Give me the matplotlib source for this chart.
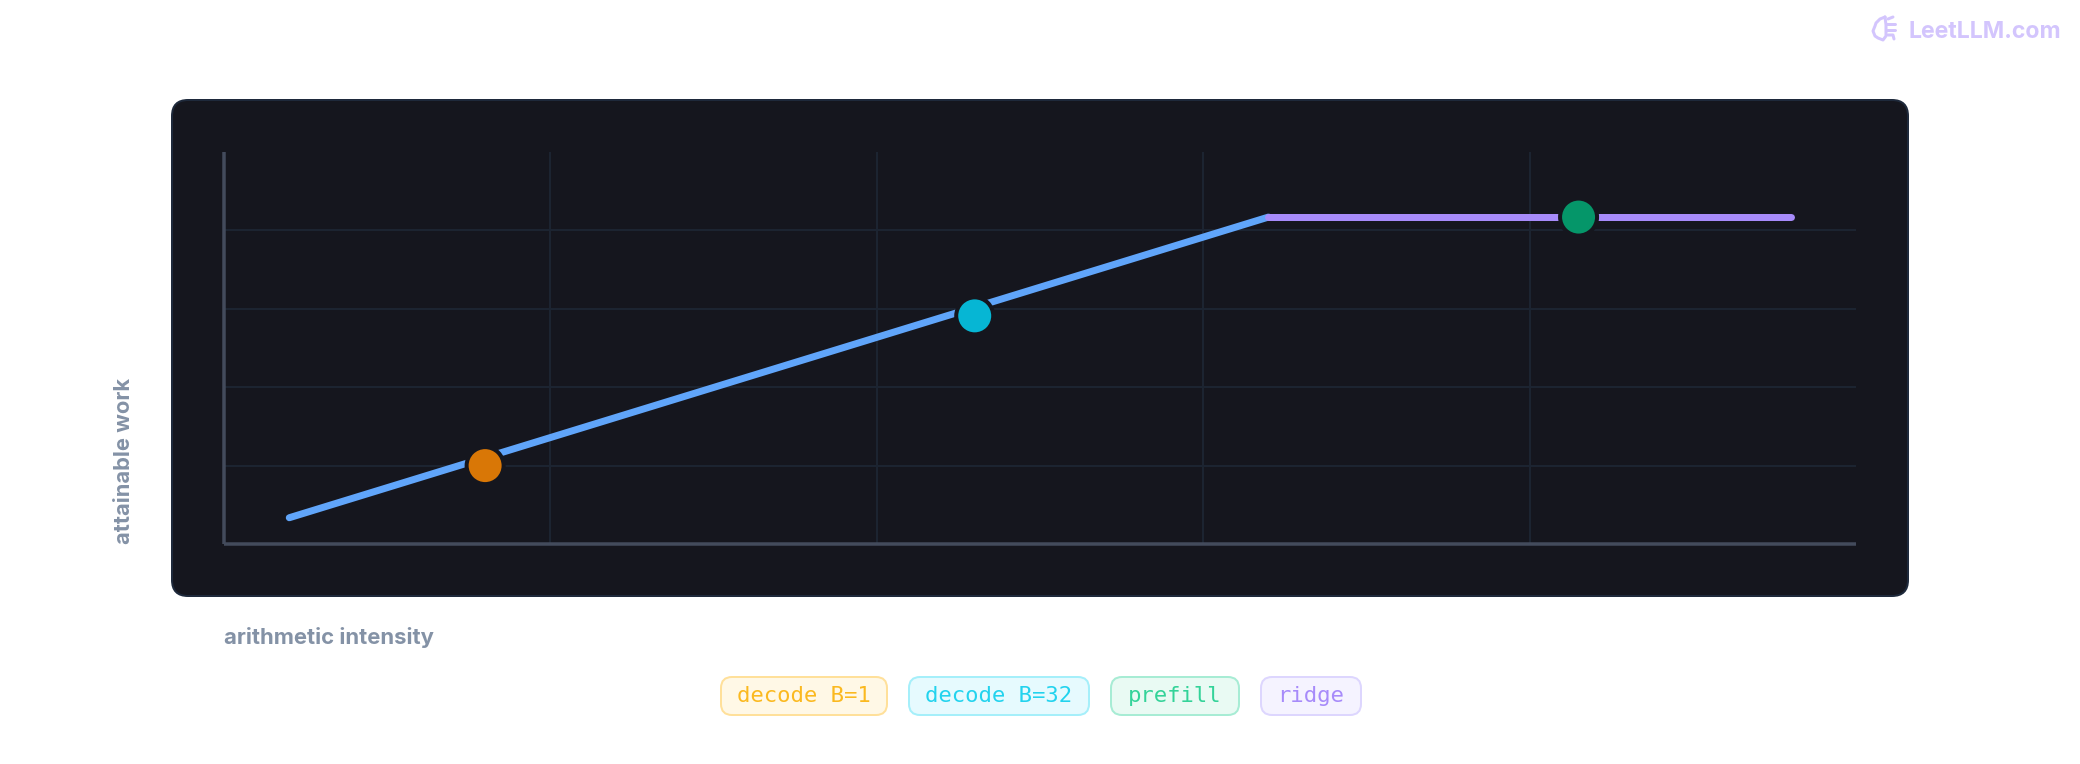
import matplotlib
matplotlib.use("Agg")
import matplotlib.pyplot as plt
from matplotlib.patches import FancyBboxPatch

plt.rcParams['font.family'] = ['Inter', 'DejaVu Sans']

W, H = 2080, 764
PX = 72 / 100  # one pixel in points at dpi 100
PANEL = "#15161e"

# data
decode_x = [0.2, 3.2]
decode_y = [0.335, 4.17]
ridge_x = [3.2, 4.8]
ridge_y = [4.17, 4.17]
point_x = [0.8, 2.3, 4.15]
point_y = [1.0, 2.91, 4.17]
point_colors = ["#d97706", "#06b6d4", "#059669"]
grid_ticks = [1, 2, 3, 4]

chip_labels = ["decode B=1", "decode B=32", "prefill", "ridge"]
chip_fill = ["#fff8e6", "#e6fafe", "#e9faf3", "#f5f3ff"]
chip_edge = ["#ffe09a", "#a5effa", "#a7ecd4", "#ddd6fe"]
chip_text = ["#fbb91f", "#22d3ee", "#34d399", "#a78bfa"]
chip_left = [721, 909, 1111, 1261]
chip_right = [887, 1089, 1239, 1361]

fig = plt.figure(figsize=(W / 100, H / 100), dpi=100, facecolor="white")

# overlay in pixel coordinates for the panel, chips and labels
bg = fig.add_axes([0, 0, 1, 1], zorder=0)
bg.set_xlim(0, W)
bg.set_ylim(H, 0)
bg.axis("off")

bg.add_patch(FancyBboxPatch((172, 100), 1736, 496, boxstyle="round,pad=0,rounding_size=16",
                            facecolor=PANEL, edgecolor="#1e293b", linewidth=2 * PX))

# main plot area
ax = fig.add_axes([224 / W, 1 - 544 / H, 1632 / W, 392 / H], zorder=1)
ax.patch.set_alpha(0)
ax.set_xlim(0, 5)
ax.set_ylim(0, 5)
ax.set_xticks(grid_ticks)
ax.set_yticks(grid_ticks)
ax.tick_params(length=0, labelbottom=False, labelleft=False)
ax.grid(True, color="#1c2431", linewidth=2 * PX)
ax.set_axisbelow(True)
for side in ["top", "right"]:
    ax.spines[side].set_visible(False)
for side in ["left", "bottom"]:
    ax.spines[side].set_color("#434b5c")
    ax.spines[side].set_linewidth(3.5 * PX)
    ax.spines[side].set_capstyle("butt")

ax.plot(decode_x, decode_y, color="#60a5fa", linewidth=7 * PX, solid_capstyle="round", zorder=3)
ax.plot(ridge_x, ridge_y, color="#a78bfa", linewidth=7 * PX, solid_capstyle="round", zorder=3)
ax.scatter(point_x, point_y, s=(37 * PX) ** 2, c=point_colors, edgecolors=PANEL,
           linewidths=4 * PX, zorder=4, clip_on=False)

# axis titles
bg.text(224, 637, "arithmetic intensity", fontsize=15.9, fontweight="bold", color="#8492a6",
        ha="left", va="center")
bg.text(124, 544, "attainable work", fontsize=15.8, fontweight="bold", color="#8492a6",
        rotation=90, ha="center", va="bottom")

# legend chips
for label, left, right, fc, ec, tc in zip(chip_labels, chip_left, chip_right, chip_fill, chip_edge, chip_text):
    bg.add_patch(FancyBboxPatch((left, 677), right - left, 38, boxstyle="round,pad=0,rounding_size=11",
                                facecolor=fc, edgecolor=ec, linewidth=2 * PX))
    bg.text((left + right) / 2, 695.5, label, fontsize=16, family=["DejaVu Sans Mono"],
            color=tc, ha="center", va="center")

# logo
logo = "#d3c5fd"
bg.text(1908, 32, "LeetLLM.com", fontsize=16.6, fontweight="bold", color=logo, ha="left", va="center")
brain_x = [1885, 1880, 1876, 1875, 1873, 1875, 1878, 1883, 1886, 1886, 1885]
brain_y = [17, 19, 23, 26, 31, 36, 38, 40, 36, 25, 17]
bg.plot(brain_x, brain_y, color=logo, linewidth=3 * PX, solid_capstyle="round", solid_joinstyle="round")
bg.plot([1886, 1895], [24, 24], color=logo, linewidth=3 * PX, solid_capstyle="round")
bg.plot([1887, 1895], [30, 30], color=logo, linewidth=3 * PX, solid_capstyle="round")
bg.plot([1888, 1893], [19, 17], color=logo, linewidth=3 * PX, solid_capstyle="round")
bg.plot([1888, 1893, 1894], [35, 35, 39], color=logo, linewidth=3 * PX, solid_capstyle="round")

fig.savefig("out.png", dpi=100)
